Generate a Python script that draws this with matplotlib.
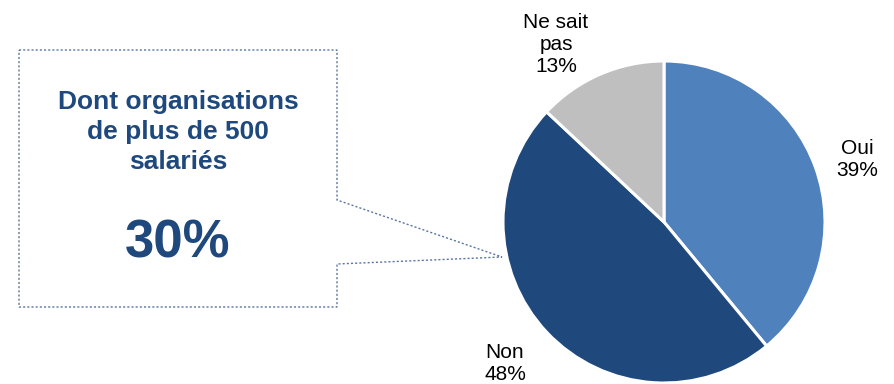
import matplotlib
matplotlib.use("Agg")
import matplotlib.pyplot as plt
from matplotlib.patches import Polygon

plt.rcParams['font.family'] = ['Liberation Sans', 'DejaVu Sans']

# Pie data
categories = ["Oui", "Non", "Ne sait\npas"]
shares = [39, 48, 13]
colors = ["#4F81BD", "#1F497D", "#BFBFBF"]

# Callout content
callout_title = "Dont organisations\nde plus de 500\nsalariés"
callout_value = 30

W, H = 894, 384
fig = plt.figure(figsize=(W / 100, H / 100), dpi=100)
ax = fig.add_axes([0, 0, 1, 1])

center = (664, H - 222)
radius = 161
ax.pie(shares, colors=colors, startangle=90, counterclock=False,
       center=center, radius=radius, frame=True,
       wedgeprops=dict(edgecolor="white", linewidth=2.2))

# Category labels outside the pie
label_pos = [(857, H - 159), (505, H - 363), (556, H - 45)]
for name, val, (x, y) in zip(categories, shares, label_pos):
    ax.text(x, y, f"{name}\n{val}%", ha="center", va="center",
            fontsize=15, color="black", linespacing=1.2)

# Dotted callout box with pointer toward the pie
pts = [(19, 50), (337, 50), (337, 200), (502, 257), (337, 264),
       (337, 307), (19, 307)]
callout = Polygon([(x, H - y) for x, y in pts], closed=True, fill=False,
                  edgecolor="#5B76A0", linewidth=1.0, linestyle=(0, (1.5, 1.5)))
ax.add_patch(callout)

ax.text(178, H - 132, callout_title, ha="center", va="center",
        fontsize=19, fontweight="bold", color="#1F497D", linespacing=1.32)
ax.text(178, H - 243, f"{callout_value}%", ha="center", va="center",
        fontsize=38, fontweight="bold", color="#1F497D")

ax.set_xlim(0, W)
ax.set_ylim(0, H)
ax.set_aspect("equal")
ax.axis("off")

fig.savefig("out.png", dpi=100)
